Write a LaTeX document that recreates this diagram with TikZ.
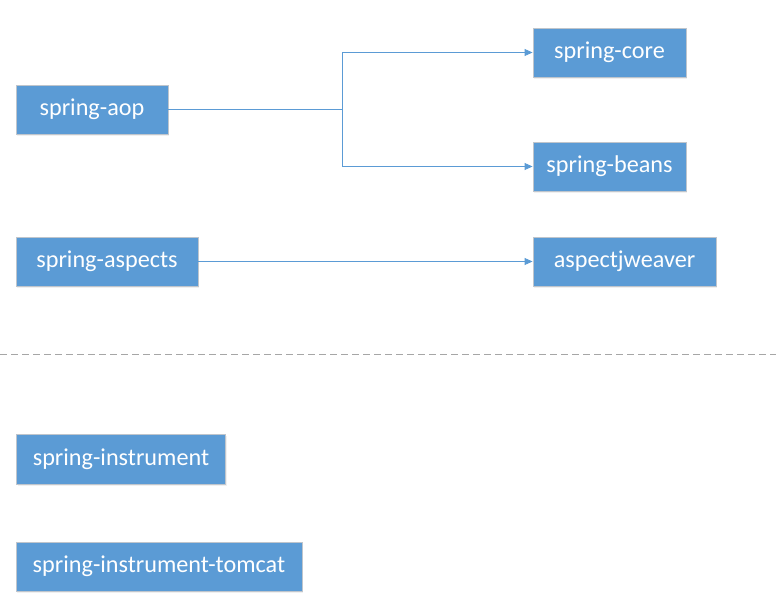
\documentclass[tikz,border=0pt]{standalone}
\usepackage{fontspec}
\setmainfont{Carlito}
\usetikzlibrary{arrows.meta,shadows}
\definecolor{boxblue}{HTML}{5B9BD5}
\definecolor{boxedge}{HTML}{BFC5CC}
\definecolor{linkblue}{HTML}{5B9BD5}
\definecolor{sepgray}{HTML}{A6A6A6}
\tikzset{
  modbox/.style={draw=boxedge, line width=0.9pt, fill=boxblue, text=white, inner sep=0pt,
    minimum height=49pt, font=\fontsize{24.2}{28}\selectfont,
    drop shadow={opacity=0.12, shadow xshift=1pt, shadow yshift=-2pt}},
  link/.style={draw=linkblue, line width=0.9pt},
  linkarrow/.style={link, -{Triangle[length=8pt,width=7pt]}},
  separator/.style={draw=sepgray, line width=0.9pt, dash pattern=on 7pt off 4pt}
}
\begin{document}
\begin{tikzpicture}[x=1pt,y=-1pt]
\useasboundingbox (0,0) rectangle (776,613);
\node[modbox, minimum width=152pt] (aop) at (92,109.5) {spring-aop};
\node[modbox, minimum width=153pt] (core) at (609.5,52.5) {spring-core};
\node[modbox, minimum width=153pt] (beans) at (609.5,166.5) {spring-beans};
\node[modbox, minimum width=182pt] (aspects) at (107,261.5) {spring-aspects};
\node[modbox, minimum width=183pt] (weaver) at (624.5,261.5) {aspectjweaver};
\node[modbox, minimum width=209pt, minimum height=50pt] (instr) at (121,459) {spring-instrument};
\node[modbox, minimum width=286pt] (tomcat) at (159,566.5) {spring-instrument-tomcat};
\coordinate (fork) at (342,109.5);
\draw[link] (aop.east) -- (fork);
\draw[linkarrow] (fork) |- (core.west);
\draw[linkarrow] (fork) |- (beans.west);
\draw[linkarrow] (aspects.east) -- (weaver.west);
\coordinate (sepL) at (0,354);
\coordinate (sepR) at (776,354);
\draw[separator] (sepL) -- (sepR);
\end{tikzpicture}
\end{document}
